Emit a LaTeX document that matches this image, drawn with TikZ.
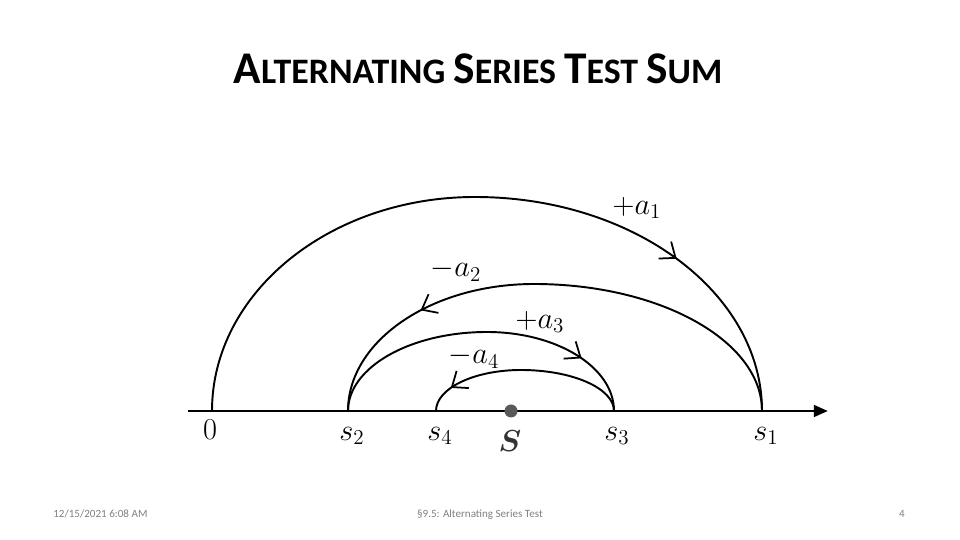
\documentclass[tikz,border=0pt]{standalone}
\usepackage{fontspec}
\usepackage{bm}
\newfontfamily\calibri{Carlito}
\usetikzlibrary{arrows.meta,decorations.markings}
\newcommand{\tcap}[1]{{\fontsize{25.8}{30}\selectfont #1}}
\tikzset{
  curve/.style={line width=1.1pt},
  headat/.style={postaction={decorate},decoration={markings,
    mark=at position #1 with {\arrow{Straight Barb[length=7.5pt,width=12pt,line width=1pt]}}}},
  axis/.style={line width=1.7pt,-{Triangle[length=8pt,width=6.5pt]}},
  lbl/.style={font=\fontsize{18.5}{22}\selectfont,inner sep=0pt},
  foot/.style={font=\calibri\fontsize{6.3}{7}\selectfont,text=gray,inner sep=0pt}
}
\begin{document}
\begin{tikzpicture}[x=0.02cm,y=0.02cm]
\useasboundingbox (0,0) rectangle (960,540);
% title
\node[anchor=base,inner sep=0pt] (title) at (478,456)
  {\calibri\bfseries\fontsize{20.4}{24}\selectfont
   \tcap{A}LTERNATING \tcap{S}ERIES \tcap{T}EST \tcap{S}UM};
% number line
\coordinate (start) at (188,129);
\coordinate (end) at (828,129);
\coordinate (o) at (212,129);
\coordinate (ps2) at (348,129);
\coordinate (ps4) at (436,129);
\coordinate (ps3) at (614,129);
\coordinate (ps1) at (762,129);
\draw[axis] (start) -- (end);
% partial sums
\draw[curve,headat=0.765] (o)
  arc[start angle=180,end angle=90,x radius=263,y radius=214]
  arc[start angle=90,end angle=0,x radius=287,y radius=214];
\draw[curve,headat=0.755] (ps1)
  arc[start angle=0,end angle=90,x radius=228,y radius=127]
  arc[start angle=90,end angle=180,x radius=186,y radius=127];
\draw[curve,headat=0.81] (ps2)
  arc[start angle=180,end angle=90,x radius=139,y radius=79]
  arc[start angle=90,end angle=0,x radius=127,y radius=79];
\draw[curve,headat=0.865] (ps3)
  arc[start angle=0,end angle=90,x radius=93,y radius=41]
  arc[start angle=90,end angle=180,x radius=85,y radius=41];
\node[circle,fill=black!65,inner sep=0pt,minimum size=7.4pt] (dot) at (511,129) {};
% labels
\node[lbl] (l0) at (210,110) {$0$};
\node[lbl] (ls2) at (352,104) {$s_2$};
\node[lbl] (ls4) at (440,104) {$s_4$};
\node[lbl,text=black!80] (ls) at (510,99) {$\bm{S}$};
\node[lbl] (ls3) at (617,104) {$s_3$};
\node[lbl] (ls1) at (766,104) {$s_1$};
\node[lbl] (la1) at (637,332) {$+a_1$};
\node[lbl] (la2) at (456,270) {$-a_2$};
\node[lbl] (la3) at (540,218) {$+a_3$};
\node[lbl] (la4) at (474,183) {$-a_4$};
% footer
\node[foot,anchor=base west] (date) at (53,22) {12/15/2021 6:08 AM};
\node[foot,anchor=base] (sect) at (480,22) {§9.5: Alternating Series Test};
\node[foot,anchor=base] (page) at (902,22) {4};
\end{tikzpicture}
\end{document}
